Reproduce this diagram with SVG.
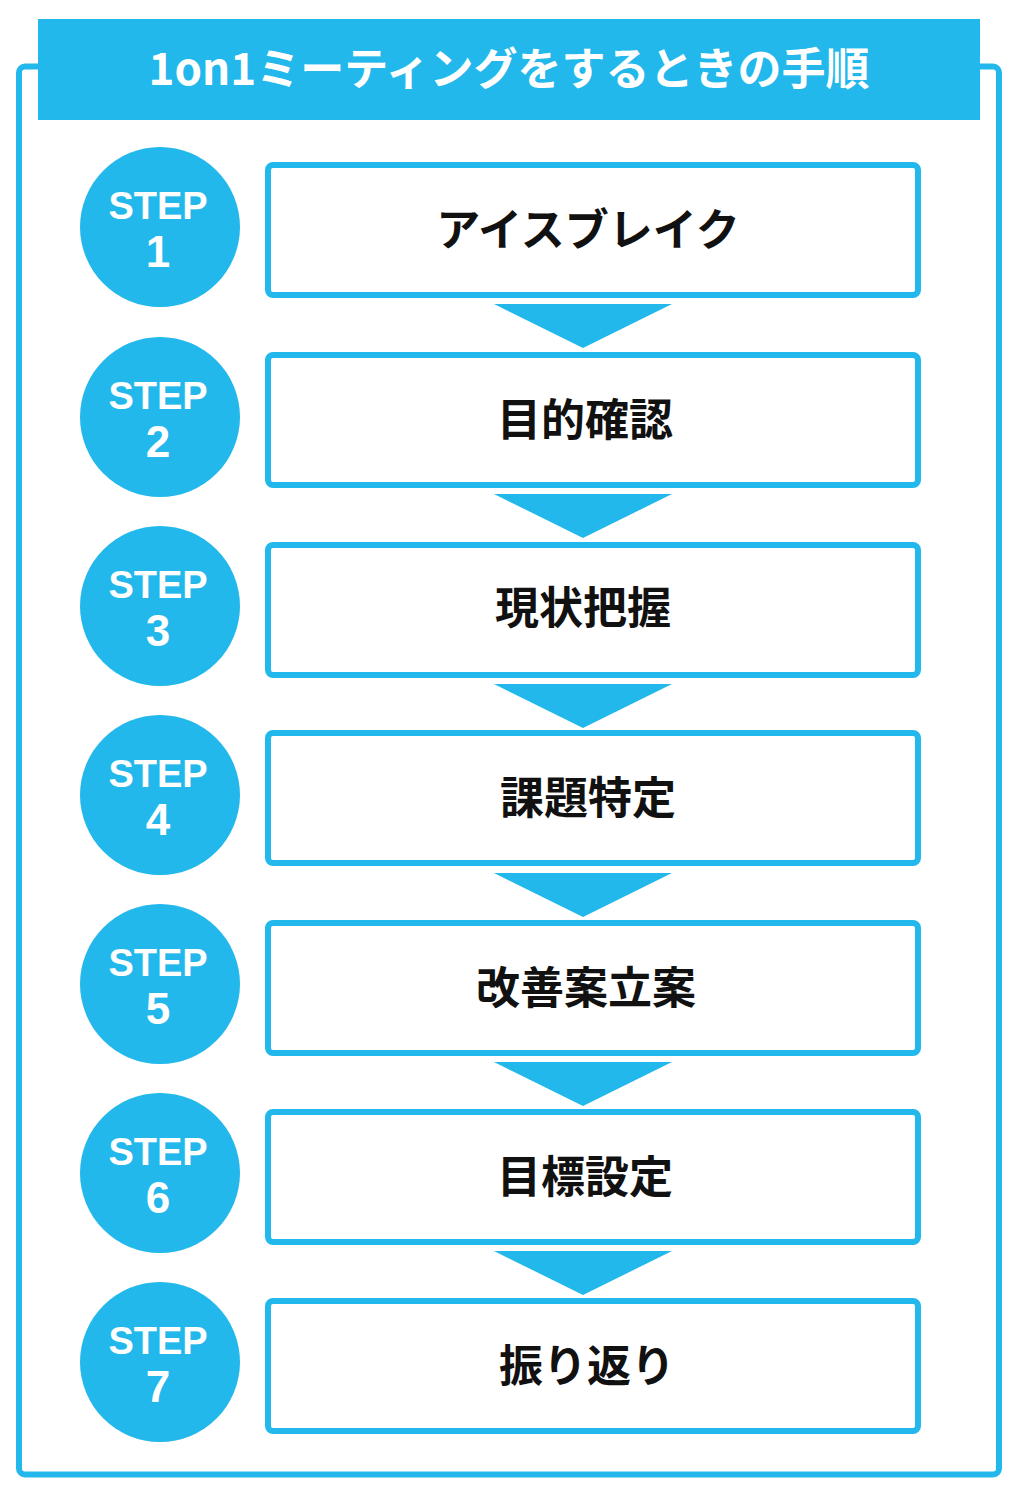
<svg xmlns="http://www.w3.org/2000/svg" width="1024" height="1502" viewBox="0 0 1024 1502">
<style>
.c{fill:#22B8EC}
.box{fill:#fff;stroke:#22B8EC;stroke-width:6}
.st{font-family:"Liberation Sans",Arial,sans-serif;font-weight:bold;fill:#fff;text-anchor:middle}
.lb{font-family:"Noto Sans CJK JP",sans-serif;font-weight:bold;font-size:44px;fill:#111;text-anchor:middle}
</style>
<rect x="0" y="0" width="1024" height="1502" fill="#fff"/>
<rect x="19" y="66.5" width="980" height="1408" rx="6" fill="none" stroke="#22B8EC" stroke-width="6"/>
<rect x="38" y="19" width="942" height="101" class="c"/>
<text x="509" y="85" font-family="'Noto Sans CJK JP',sans-serif" font-weight="bold" font-size="44" fill="#fff" text-anchor="middle">1on1ミーティングをするときの手順</text>
<g id="connectors">
<polygon points="494,304 672,304 583,348" class="c"/>
<polygon points="494,494 672,494 583,538" class="c"/>
<polygon points="494,684 672,684 583,728" class="c"/>
<polygon points="494,873 672,873 583,917" class="c"/>
<polygon points="494,1062 672,1062 583,1106" class="c"/>
<polygon points="494,1251 672,1251 583,1295" class="c"/>
</g>
<g id="step1"><circle cx="160" cy="227" r="80" class="c"/><text x="158" y="219" class="st" font-size="38">STEP</text><text x="158" y="267" class="st" font-size="44">1</text><rect x="268" y="165" width="650" height="130" rx="5" class="box"/><text x="588" y="246" class="lb">アイスブレイク</text></g>
<g id="step2"><circle cx="160" cy="417" r="80" class="c"/><text x="158" y="409" class="st" font-size="38">STEP</text><text x="158" y="457" class="st" font-size="44">2</text><rect x="268" y="355" width="650" height="130" rx="5" class="box"/><text x="585" y="436" class="lb">目的確認</text></g>
<g id="step3"><circle cx="160" cy="606" r="80" class="c"/><text x="158" y="598" class="st" font-size="38">STEP</text><text x="158" y="646" class="st" font-size="44">3</text><rect x="268" y="545" width="650" height="130" rx="5" class="box"/><text x="583" y="624" class="lb">現状把握</text></g>
<g id="step4"><circle cx="160" cy="795" r="80" class="c"/><text x="158" y="787" class="st" font-size="38">STEP</text><text x="158" y="835" class="st" font-size="44">4</text><rect x="268" y="733" width="650" height="130" rx="5" class="box"/><text x="588" y="814" class="lb">課題特定</text></g>
<g id="step5"><circle cx="160" cy="984" r="80" class="c"/><text x="158" y="976" class="st" font-size="38">STEP</text><text x="158" y="1024" class="st" font-size="44">5</text><rect x="268" y="923" width="650" height="130" rx="5" class="box"/><text x="586" y="1004" class="lb">改善案立案</text></g>
<g id="step6"><circle cx="160" cy="1173" r="80" class="c"/><text x="158" y="1165" class="st" font-size="38">STEP</text><text x="158" y="1213" class="st" font-size="44">6</text><rect x="268" y="1112" width="650" height="130" rx="5" class="box"/><text x="585" y="1193" class="lb">目標設定</text></g>
<g id="step7"><circle cx="160" cy="1362" r="80" class="c"/><text x="158" y="1354" class="st" font-size="38">STEP</text><text x="158" y="1402" class="st" font-size="44">7</text><rect x="268" y="1301" width="650" height="130" rx="5" class="box"/><text x="587" y="1382" class="lb">振り返り</text></g>
</svg>
